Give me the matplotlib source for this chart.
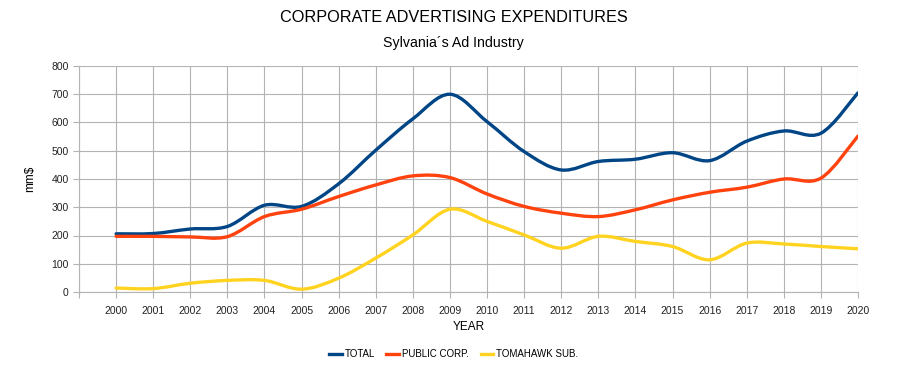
from matplotlib import pyplot as plt
from matplotlib.path import Path
import matplotlib.patches as mpatches
import numpy as np

plt.rcParams['font.family'] = ['Liberation Sans', 'DejaVu Sans']

years = np.arange(2000, 2021)

total = np.array([206, 207, 223, 232, 307, 303, 383, 502, 613, 700, 603,
                  497, 432, 462, 470, 493, 465, 534, 570, 562, 705])
public_corp = np.array([197, 197, 195, 196, 267, 293, 338, 379, 411, 405, 347,
                        303, 279, 267, 291, 326, 353, 371, 400, 403, 552])
tomahawk = np.array([14, 12, 31, 41, 41, 10, 49, 120, 202, 293, 250,
                     202, 155, 197, 179, 161, 114, 173, 170, 161, 153])

series = [
    ("TOTAL", total, "#004586"),
    ("PUBLIC CORP.", public_corp, "#ff420e"),
    ("TOMAHAWK SUB.", tomahawk, "#ffd320"),
]


def smooth_path(x, y):
    # Catmull-Rom style bezier through the data points
    x = np.asarray(x, float)
    y = np.asarray(y, float)
    verts = [(x[0], y[0])]
    codes = [Path.MOVETO]
    n = len(x)
    for i in range(n - 1):
        x0, y0 = (x[i - 1], y[i - 1]) if i > 0 else (x[i], y[i])
        x3, y3 = (x[i + 2], y[i + 2]) if i + 2 < n else (x[i + 1], y[i + 1])
        c1 = (x[i] + (x[i + 1] - x0) / 6, y[i] + (y[i + 1] - y0) / 6)
        c2 = (x[i + 1] - (x3 - x[i]) / 6, y[i + 1] - (y3 - y[i]) / 6)
        verts += [c1, c2, (x[i + 1], y[i + 1])]
        codes += [Path.CURVE4] * 3
    return Path(verts, codes)


fig = plt.figure(figsize=(9.07, 3.78), dpi=100)
ax = fig.add_axes([79 / 907, 1 - 292 / 378, 779 / 907, 226 / 378])

for name, vals, col in series:
    ax.add_patch(mpatches.PathPatch(smooth_path(years, vals), facecolor='none',
                                    edgecolor=col, lw=2.4, capstyle='round'))
    ax.plot([], [], color=col, lw=2.4, label=name)

ax.set_xlim(1999, 2020)
ax.set_ylim(0, 800)
ax.set_xticks(np.arange(1999, 2021))
ax.set_xticklabels([''] + [str(y) for y in years])
ax.set_yticks(np.arange(0, 801, 100))
ax.grid(True, color='#b3b3b3', lw=0.8)
ax.set_axisbelow(True)
for s in ['top', 'right']:
    ax.spines[s].set_visible(False)
for s in ['left', 'bottom']:
    ax.spines[s].set_color('#b3b3b3')
ax.tick_params(axis='both', colors='#b3b3b3', length=4, labelsize=7.5,
               labelcolor='#222222')
ax.tick_params(axis='x', pad=6)

ax.set_xlabel("YEAR", fontsize=8.5, labelpad=4)
ax.set_ylabel("mm$", fontsize=8.5, labelpad=11)

fig.text(0.5, 1 - 17 / 378, "CORPORATE ADVERTISING EXPENDITURES", ha='center',
         va='center', fontsize=11.7)
fig.text(0.5, 1 - 43 / 378, "Sylvania´s Ad Industry", ha='center',
         va='center', fontsize=10.2)

fig.legend(loc='center', bbox_to_anchor=(0.5, 1 - 354 / 378), ncol=3,
           frameon=False, fontsize=7, handlelength=1.3, handletextpad=0.3,
           columnspacing=1.2)

plt.savefig("out.png", dpi=100)
